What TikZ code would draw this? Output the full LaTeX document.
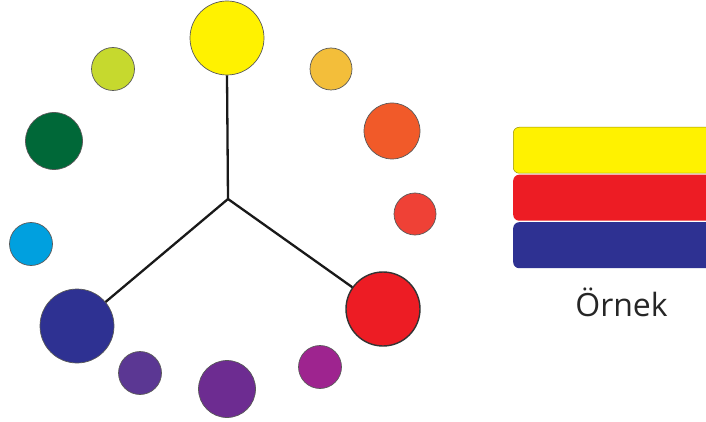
\documentclass[tikz,border=0pt]{standalone}
\usepackage{fontspec}
\setmainfont{Open Sans}
\definecolor{cY}{HTML}{FFF200}
\definecolor{cYO}{HTML}{F3BE3A}
\definecolor{cO}{HTML}{F15A29}
\definecolor{cRO}{HTML}{EF4136}
\definecolor{cR}{HTML}{ED1C24}
\definecolor{cRV}{HTML}{9E248F}
\definecolor{cV}{HTML}{6D2C91}
\definecolor{cBV}{HTML}{5B3793}
\definecolor{cB}{HTML}{2E3192}
\definecolor{cC}{HTML}{00A0DF}
\definecolor{cG}{HTML}{006838}
\definecolor{cYG}{HTML}{C6D92E}
\tikzset{
  dot/.style={circle, inner sep=0pt, draw=black!65, line width=0.7pt},
  spoke/.style={line width=2.3pt, black!90},
  bar/.style={rectangle, rounded corners=6pt, inner sep=0pt, minimum width=210pt, minimum height=46pt, anchor=north west},
}
\begin{document}
\begin{tikzpicture}[x=1pt,y=-1pt]
\clip (0,0) rectangle (706,422);
\fill[white] (0,0) rectangle (706,422);
% circles
\node[dot, fill=cY,  minimum size=74pt] (y)  at (227,38) {};
\node[dot, fill=cYO, minimum size=42pt] (yo) at (331,69) {};
\node[dot, fill=cO,  minimum size=56pt] (o)  at (392,131) {};
\node[dot, fill=cRO, minimum size=42pt] (ro) at (415,214) {};
\node[dot, fill=cR,  minimum size=74pt, line width=1.4pt, draw=black!80] (r) at (383,309) {};
\node[dot, fill=cRV, minimum size=43pt] (rv) at (320,367) {};
\node[dot, fill=cV,  minimum size=57pt] (v)  at (227,389) {};
\node[dot, fill=cBV, minimum size=43pt] (bv) at (140,373) {};
\node[dot, fill=cB,  minimum size=74pt] (b)  at (77,326) {};
\node[dot, fill=cC,  minimum size=43pt] (c)  at (31,244) {};
\node[dot, fill=cG,  minimum size=57pt] (g)  at (54,141) {};
\node[dot, fill=cYG, minimum size=43pt] (yg) at (113,69) {};
% spokes
\coordinate (m) at (228,199);
\draw[spoke] (y.south) -- (m);
\draw[spoke] (m) -- (r);
\draw[spoke] (m) -- (b);
% bars
\node[bar, fill=cY, draw=black!40!cY, line width=0.5pt] (by) at (513,127) {};
\node[bar, fill=cR] (br) at (513,174.5) {};
\node[bar, fill=cB] (bb) at (513,222) {};
\node[text=black!85, anchor=base, inner sep=0pt, font=\fontsize{32}{38}\selectfont] (t) at (621.5,316) {Örnek};
\end{tikzpicture}
\end{document}
